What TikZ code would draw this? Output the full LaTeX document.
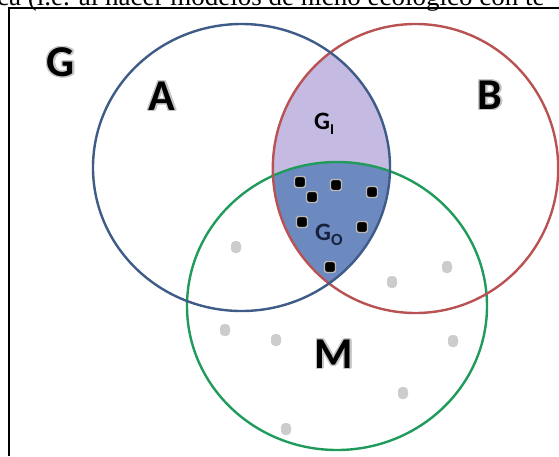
\documentclass[tikz,border=0pt]{standalone}
\usepackage{fontspec}
\setmainfont{Liberation Serif}
\newfontfamily\calib{Carlito}
\usepackage[copies]{contour}
\contourlength{1.4pt}
\contournumber{24}
\definecolor{blueA}{RGB}{62,92,135}
\definecolor{redB}{RGB}{185,82,82}
\definecolor{greenM}{RGB}{32,155,92}
\definecolor{lav}{RGB}{197,186,226}
\definecolor{ovl}{RGB}{108,138,192}
\definecolor{gonavy}{RGB}{22,34,62}
\tikzset{
  ring/.style={line width=2.4pt},
  biglabel/.style={font=\calib\bfseries\fontsize{44}{44}\selectfont, inner sep=0pt},
  sublabel/.style={font=\calib\bfseries\fontsize{25}{25}\selectfont, inner sep=0pt},
  bdot/.style={draw=gray!55, line width=1.4pt, fill=black, rounded corners=2.5pt, minimum width=11pt, minimum height=11pt, inner sep=0pt},
  gdot/.style={fill=gray!40, rounded corners=4pt, minimum width=10pt, minimum height=12pt, inner sep=0pt}
}
\begin{document}
\begin{tikzpicture}[x=1pt,y=-1pt]
\useasboundingbox (0,0) rectangle (559,456);
\begin{scope}
  \clip (0,0) rectangle (559,456);
  \node[anchor=base west, inner sep=0pt, font=\fontsize{27}{27}\selectfont] (toptext) at (-3,5.5) {ca (i.e. al hacer modelos de nicho ecológico con te};
\end{scope}
% frame
\draw[line width=1.6pt] (9,456) -- (9,8) -- (559,8);
% fills
\begin{scope}
  \clip (241.5,167.5) ellipse [x radius=148.5pt, y radius=143.5pt];
  \clip (415.5,168.5) ellipse [x radius=142.7pt, y radius=144.5pt];
  \fill[lav] (0,0) rectangle (559,456);
  \clip (337,306) ellipse [x radius=150pt, y radius=144pt];
  \fill[ovl] (0,0) rectangle (559,456);
\end{scope}
% circles
\draw[ring, greenM] (337,306) ellipse [x radius=150pt, y radius=144pt];
\draw[ring, redB] (415.5,168.5) ellipse [x radius=142.7pt, y radius=144.5pt];
\draw[ring, blueA] (241.5,167.5) ellipse [x radius=148.5pt, y radius=143.5pt];
% labels
\node[biglabel] (G) at (61,63) {\contour{gray!45}{G}};
\node[biglabel] (A) at (162,97) {\contour{gray!45}{A}};
\node[biglabel] (B) at (490,96) {\contour{gray!45}{B}};
\node[biglabel] (M) at (334,355) {\contour{gray!45}{M}};
\node[sublabel, anchor=base west] (GI) at (314,129) {G\raisebox{-5pt}{\fontsize{15}{15}\selectfont I}};
\node[sublabel, anchor=base west, text=gonavy] (GO) at (315,240) {G\raisebox{-5pt}{\fontsize{17}{17}\selectfont O}};
% black dots
\foreach \i/\x/\y in {1/300/182, 2/312/197, 3/336/185, 4/372/192, 5/302/222, 6/362/227, 7/330/267}
  \node[bdot] (b\i) at (\x,\y) {};
% gray dots
\foreach \i/\x/\y in {1/236/247, 2/392/282, 3/447/267, 4/225/330, 5/276/340, 6/453/341, 7/403/393, 8/286/429}
  \node[gdot] (g\i) at (\x,\y) {};
\end{tikzpicture}
\end{document}
